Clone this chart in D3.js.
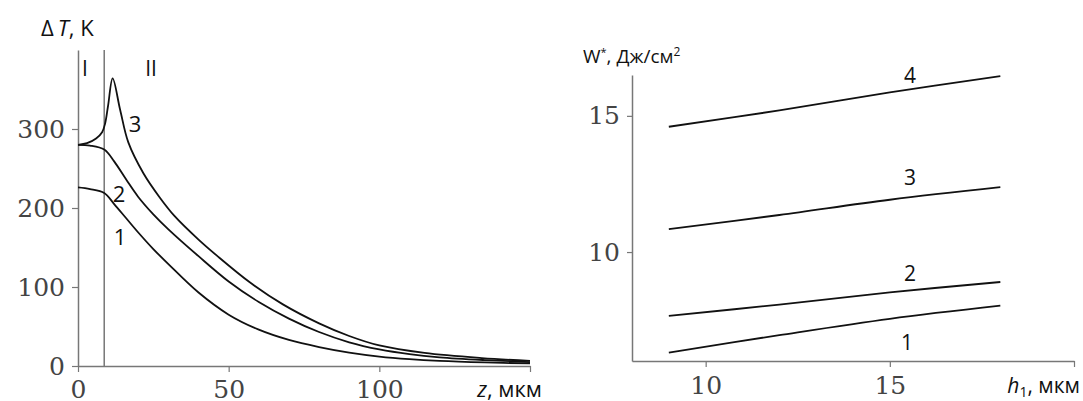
<!DOCTYPE html>
<html>
<head>
<meta charset="utf-8">
<script src="https://cdn.jsdelivr.net/npm/d3@7"></script>
<style>
  body { margin: 0; background: #fff; }
  svg { display: block; }
</style>
</head>
<body>
<div id="chart"></div>
<script>
// Left panel: temperature rise vs depth
const curve1Z = [0, 4, 8.7, 12, 16, 20, 25, 30, 40, 50, 60, 70, 80, 90, 100, 110, 120, 135, 150];
const curve1T = [226, 224, 219, 205, 187, 169, 148, 129, 93, 65, 46, 33, 24, 17, 12, 8.7, 6.5, 4.5, 3.2];
const curve2Z = [0, 4, 8.7, 12, 16, 20, 25, 30, 40, 50, 60, 70, 80, 90, 100, 110, 120, 135, 150];
const curve2T = [280, 279, 274, 259, 236, 214, 192, 173, 139, 107, 81, 60, 43, 30, 21, 15, 11, 7.5, 5];
const curve3Z = [0, 3, 6, 8, 9, 10, 11.5, 14, 16.7, 21.7, 27, 32, 40, 46, 57, 68, 80, 90, 100, 115, 134, 150];
const curve3T = [280, 282, 288, 296, 307, 330, 364, 324, 283, 244, 214, 190, 160, 140, 106, 78, 54, 38, 26, 16.5, 10, 6.5];
const boundaryZ = 8.7;
const leftXTicks = [0, 50, 100, 150];
const leftYTicks = [0, 100, 200, 300];

// Right panel: energy density vs layer thickness
const thicknessH = [9, 12, 15, 18];
const energy1 = [6.31, 6.95, 7.55, 8.03];
const energy2 = [7.66, 8.07, 8.52, 8.9];
const energy3 = [10.84, 11.36, 11.92, 12.38];
const energy4 = [14.6, 15.2, 15.86, 16.46];
const rightXTicks = [10, 15, 20];
const rightYTicks = [10, 15];

const W = 1083, H = 401;
const svg = d3.select("#chart").append("svg")
  .attr("width", W).attr("height", H);

const axisColor = "#777";
const tickTextColor = "#444";
const sans = "'Open Sans', sans-serif";
const serif = "'DejaVu Serif', serif";

// ---- left panel ----
const x1 = d3.scaleLinear().domain([0, 150]).range([78, 530]);
const y1 = d3.scaleLinear().domain([0, 400]).range([366, 50]);

function styleAxis(g, size) {
  g.select(".domain").attr("stroke", axisColor).attr("stroke-width", 1.5);
  g.selectAll(".tick line").attr("stroke", axisColor).attr("stroke-width", 1.2);
  g.selectAll(".tick text")
    .attr("fill", tickTextColor)
    .style("font-family", serif)
    .style("font-size", size + "px");
}

svg.append("g")
  .attr("transform", `translate(0,${y1(0)})`)
  .call(d3.axisBottom(x1).tickValues(leftXTicks).tickSize(6).tickSizeOuter(0).tickPadding(8)
    .tickFormat(d => d === 150 ? "" : d))
  .call(g => styleAxis(g, 25));

svg.append("g")
  .attr("transform", `translate(${x1(0)},0)`)
  .call(d3.axisLeft(y1).tickValues(leftYTicks).tickSize(6).tickSizeOuter(0).tickPadding(7))
  .call(g => styleAxis(g, 25));

// boundary between zone I and II
svg.append("line")
  .attr("x1", x1(boundaryZ)).attr("x2", x1(boundaryZ))
  .attr("y1", y1(0)).attr("y2", y1(400))
  .attr("stroke", axisColor).attr("stroke-width", 1.5);

const line1 = d3.line().x(d => x1(d[0])).y(d => y1(d[1])).curve(d3.curveCatmullRom.alpha(0.5));
[[curve1Z, curve1T], [curve2Z, curve2T], [curve3Z, curve3T]].forEach(([zs, ts]) => {
  svg.append("path")
    .datum(zs.map((z, i) => [z, ts[i]]))
    .attr("d", line1)
    .attr("fill", "none")
    .attr("stroke", "#111")
    .attr("stroke-width", 1.8);
});

function label(x, y, txt, size) {
  return svg.append("text")
    .attr("x", x).attr("y", y)
    .attr("text-anchor", "middle")
    .attr("dominant-baseline", "central")
    .style("font-family", sans)
    .style("font-size", size + "px")
    .attr("fill", "#111")
    .text(txt);
}

label(135, 123, "3", 22);
label(119, 193, "2", 22);
label(120, 236, "1", 22);
label(85, 68, "I", 21);
label(151, 68, "II", 21);

// axis titles left
const tLeft = svg.append("text").attr("x", 41).attr("y", 36)
  .style("font-family", sans).style("font-size", "22px").attr("fill", "#111");
tLeft.append("tspan").text("Δ");
tLeft.append("tspan").attr("dx", 4).style("font-style", "italic").text("T");
tLeft.append("tspan").text(", K");

const tz = svg.append("text").attr("x", 542).attr("y", 397).attr("text-anchor", "end")
  .style("font-family", sans).style("font-size", "22px").attr("fill", "#111");
tz.append("tspan").style("font-style", "italic").text("z");
tz.append("tspan").text(", мкм");

// ---- right panel ----
const x2 = d3.scaleLinear().domain([8, 20]).range([632, 1074]);
const y2 = d3.scaleLinear().domain([6, 16.5]).range([361, 75]);

svg.append("g")
  .attr("transform", `translate(0,${y2(6)})`)
  .call(d3.axisBottom(x2).tickValues(rightXTicks).tickSize(6).tickSizeOuter(0).tickPadding(9)
    .tickFormat(d => d === 20 ? "" : d))
  .call(g => styleAxis(g, 25));

svg.append("g")
  .attr("transform", `translate(${x2(8)},0)`)
  .call(d3.axisLeft(y2).tickValues(rightYTicks).tickSize(5).tickSizeOuter(0).tickPadding(7))
  .call(g => styleAxis(g, 25));

const line2 = d3.line().x(d => x2(d[0])).y(d => y2(d[1])).curve(d3.curveCatmullRom.alpha(0.5));
[energy1, energy2, energy3, energy4].forEach(vals => {
  svg.append("path")
    .datum(thicknessH.map((h, i) => [h, vals[i]]))
    .attr("d", line2)
    .attr("fill", "none")
    .attr("stroke", "#111")
    .attr("stroke-width", 1.8);
});

label(910, 75, "4", 21);
label(910, 177, "3", 21);
label(910, 273, "2", 21);
label(907, 342, "1", 21);

const tW = svg.append("text").attr("x", 583).attr("y", 63)
  .style("font-family", sans).style("font-size", "19px").attr("fill", "#111");
tW.append("tspan").text("W");
tW.append("tspan").attr("dy", -7).style("font-size", "11px").text("*");
tW.append("tspan").attr("dy", 7).text(", Дж/см");
tW.append("tspan").attr("dy", -7).style("font-size", "12px").text("2");

const th = svg.append("text").attr("x", 1080).attr("y", 393).attr("text-anchor", "end")
  .style("font-family", sans).style("font-size", "21px").attr("fill", "#111");
th.append("tspan").style("font-style", "italic").text("h");
th.append("tspan").attr("dy", 4).style("font-size", "14px").text("1");
th.append("tspan").attr("dy", -4).text(", мкм");
</script>
</body>
</html>
